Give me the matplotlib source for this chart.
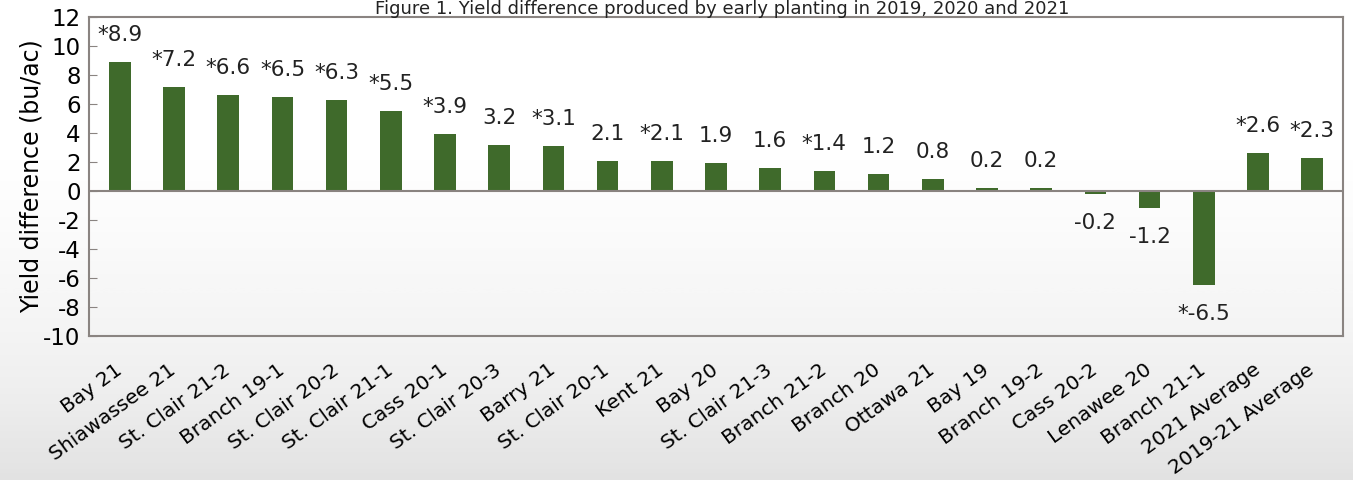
import numpy as np
import matplotlib.pyplot as plt

# values
sites = ["Bay 21", "Shiawassee 21", "St. Clair 21-2", "Branch 19-1", "St. Clair 20-2",
         "St. Clair 21-1", "Cass 20-1", "St. Clair 20-3", "Barry 21", "St. Clair 20-1",
         "Kent 21", "Bay 20", "St. Clair 21-3", "Branch 21-2", "Branch 20", "Ottawa 21",
         "Bay 19", "Branch 19-2", "Cass 20-2", "Lenawee 20", "Branch 21-1",
         "2021 Average", "2019-21 Average"]
yield_diff = [8.9, 7.2, 6.6, 6.5, 6.3, 5.5, 3.9, 3.2, 3.1, 2.1, 2.1, 1.9, 1.6, 1.4,
              1.2, 0.8, 0.2, 0.2, -0.2, -1.2, -6.5, 2.6, 2.3]
significant = [True, True, True, True, True, True, True, False, True, False, True,
               False, False, True, False, False, False, False, False, False, True,
               True, True]
y_ticks = list(range(-10, 13, 2))

BAR_GREEN = "#3f6a2b"
FRAME = "#8a8481"

plt.rcParams["axes.unicode_minus"] = False

fig = plt.figure(figsize=(13.53, 4.8), dpi=100)

# background: faded field photo approximated with a vertical gradient
bg = fig.add_axes([0, 0, 1, 1], zorder=-1)
grad = np.clip((np.linspace(0, 1, 256) - 0.3) / 0.7, 0, 1) ** 1.3
grad = np.vstack([grad] * 2).T
bg.imshow(grad, aspect="auto", cmap="Greys", vmin=0, vmax=5.0,
          extent=[0, 1, 0, 1], origin="upper")
bg.axis("off")

ax = fig.add_axes([89 / 1353, 1 - 336 / 480, (1343 - 89) / 1353, (336 - 17) / 480])
ax.patch.set_alpha(0)

x = np.arange(len(sites))
ax.bar(x, yield_diff, width=0.4, color=BAR_GREEN, zorder=3)
ax.axhline(0, color=FRAME, lw=1.5, zorder=4)

for xi, v, sig in zip(x, yield_diff, significant):
    label = ("*" if sig else "") + f"{v:.1f}"
    off = 27 if v >= 0 else -29
    ax.annotate(label, (xi, v), xytext=(0, off), textcoords="offset pixels",
                ha="center", va="center", fontsize=15.5, color="#222222")

ax.set_xlim(-0.57, len(sites) - 0.43)
ax.set_ylim(-10, 12)
ax.set_yticks(y_ticks)
ax.tick_params(axis="y", direction="in", length=6, color=FRAME, labelsize=16.5,
               pad=6)
ax.tick_params(axis="x", length=0, labelsize=14.5, pad=23)
ax.set_xticks(x)
ax.set_xticklabels(sites, rotation=36, ha="right", va="center",
                   rotation_mode="anchor")
for s in ax.spines.values():
    s.set_color(FRAME)
    s.set_linewidth(1.5)
ax.set_ylabel("Yield difference (bu/ac)", fontsize=17, labelpad=0)

fig.text(0.534, 1 - 14 / 480, "Figure 1. Yield difference produced by early planting in 2019, 2020 and 2021",
         ha="center", va="baseline", fontsize=13, color="#222222")

fig.savefig("out.png", dpi=100)
